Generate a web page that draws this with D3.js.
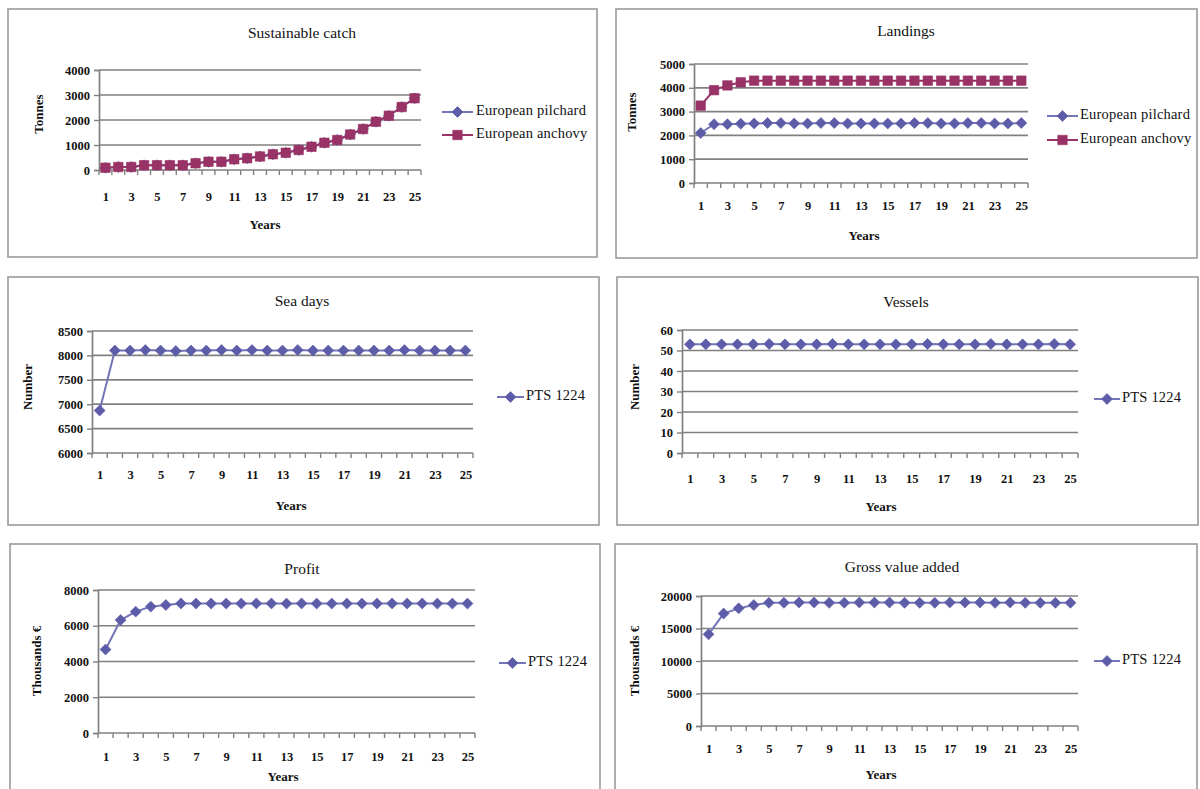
<!DOCTYPE html>
<html><head><meta charset="utf-8">
<script src="https://cdn.jsdelivr.net/npm/d3@7"></script>
<style>
html,body{margin:0;padding:0;background:#fff;}
svg{display:block;}
text{font-family:"Liberation Serif","Times New Roman",serif;fill:#111;}
</style></head>
<body>
<svg id="c" width="1200" height="789"></svg>
<script>
// ---- data ----
const years = [1,2,3,4,5,6,7,8,9,10,11,12,13,14,15,16,17,18,19,20,21,22,23,24,25];
const yearLabels = [1,3,5,7,9,11,13,15,17,19,21,23,25];

const catchPilchard = [90,120,120,190,190,190,190,270,330,330,430,470,540,630,690,800,930,1090,1200,1420,1640,1930,2170,2520,2870];
const catchAnchovy  = [90,120,120,190,190,190,190,270,330,330,430,470,540,630,690,800,930,1090,1200,1420,1640,1930,2170,2520,2870];

const landPilchard = [2100,2470,2470,2490,2500,2520,2520,2500,2500,2520,2520,2500,2500,2500,2500,2500,2520,2520,2500,2500,2520,2520,2500,2500,2520];
const landAnchovy  = [3250,3900,4100,4230,4300,4300,4300,4300,4300,4300,4300,4300,4300,4300,4300,4300,4300,4300,4300,4300,4300,4300,4300,4300,4300];

const seaDays = [6870,8100,8100,8110,8100,8090,8100,8100,8110,8100,8110,8100,8100,8110,8100,8100,8100,8100,8100,8100,8110,8100,8100,8100,8100];
const vessels = [53,53,53,53,53,53.2,53,53,53,53.2,53,53,53,53,53,53.2,53,53,53,53.2,53,53,53,53.2,53];
const profit  = [4670,6320,6790,7070,7160,7250,7240,7240,7240,7240,7250,7250,7240,7250,7240,7240,7240,7240,7240,7250,7240,7250,7240,7240,7240];
const gva     = [14100,17300,18100,18600,18950,18950,19000,19000,18950,18950,19000,19000,19000,18950,18950,18950,19000,19000,19000,18950,19000,18950,18950,18950,18950];

const yTicksCatch = [0,1000,2000,3000,4000];
const yTicksLand  = [0,1000,2000,3000,4000,5000];
const yTicksSea   = [6000,6500,7000,7500,8000,8500];
const yTicksVes   = [0,10,20,30,40,50,60];
const yTicksProf  = [0,2000,4000,6000,8000];
const yTicksGva   = [0,5000,10000,15000,20000];

const seriesNames = ["European pilchard","European anchovy","PTS 1224"];
const titles = ["Sustainable catch","Landings","Sea days","Vessels","Profit","Gross value added"];
const yTitles = ["Tonnes","Tonnes","Number","Number","Thousands €","Thousands €"];

// ---- styles ----
const BLUE = "#5c5ca8", BLUE_LINE = "#7474b8", RED = "#993366";

const panels = [
 {frame:[8,9,597,257], plot:{L:99,R:421,T:70,B:170}, ticks:yTicksCatch, title:titles[0], tpos:[302,34], ytitle:yTitles[0], ytpos:[40,114], xlabY:200, yearsPos:[265,226],
  series:[{name:seriesNames[0],vals:catchPilchard,col:BLUE,lcol:BLUE_LINE,shape:"diamond"},{name:seriesNames[1],vals:catchAnchovy,col:RED,lcol:RED,shape:"square"}],
  legend:{x1:442,x2:473,tx:476,ys:[112,135]}},
 {frame:[616,9,1197,258], plot:{L:694,R:1028,T:64,B:183}, ticks:yTicksLand, title:titles[1], tpos:[906,32], ytitle:yTitles[1], ytpos:[633,112], xlabY:209, yearsPos:[864,237],
  series:[{name:seriesNames[0],vals:landPilchard,col:BLUE,lcol:BLUE_LINE,shape:"diamond"},{name:seriesNames[1],vals:landAnchovy,col:RED,lcol:RED,shape:"square"}],
  legend:{x1:1047,x2:1078,tx:1080,ys:[116,140]}},
 {frame:[8,277,599,525], plot:{L:92,R:473,T:331,B:453}, ticks:yTicksSea, title:titles[2], tpos:[302,302], ytitle:yTitles[2], ytpos:[29,387], xlabY:478, yearsPos:[291,507],
  series:[{name:seriesNames[2],vals:seaDays,col:BLUE,lcol:BLUE_LINE,shape:"diamond"}],
  legend:{x1:497,x2:524,tx:526,ys:[397]}},
 {frame:[617,277,1198,525], plot:{L:682,R:1078,T:330,B:453}, ticks:yTicksVes, title:titles[3], tpos:[906,303], ytitle:yTitles[3], ytpos:[636,387], xlabY:482, yearsPos:[881,508],
  series:[{name:seriesNames[2],vals:vessels,col:BLUE,lcol:BLUE_LINE,shape:"diamond"}],
  legend:{x1:1094,x2:1120,tx:1122,ys:[399]}},
 {frame:[10,544,600,800], plot:{L:98,R:475,T:590,B:733}, ticks:yTicksProf, title:titles[4], tpos:[302,570], ytitle:yTitles[4], ytpos:[38,661], xlabY:760, yearsPos:[283,778],
  series:[{name:seriesNames[2],vals:profit,col:BLUE,lcol:BLUE_LINE,shape:"diamond"}],
  legend:{x1:499,x2:526,tx:528,ys:[663]}},
 {frame:[615,544,1197,800], plot:{L:701,R:1078,T:596,B:726}, ticks:yTicksGva, title:titles[5], tpos:[902,568], ytitle:yTitles[5], ytpos:[636,661], xlabY:752, yearsPos:[881,776],
  series:[{name:seriesNames[2],vals:gva,col:BLUE,lcol:BLUE_LINE,shape:"diamond"}],
  legend:{x1:1094,x2:1120,tx:1122,ys:[661]}}
];

const svg = d3.select("#c");

function marker(g, shape, col, x, y){
  if (shape === "diamond") {
    g.append("path").attr("d", d3.symbol().type(d3.symbolSquare).size(60)())
      .attr("transform", `translate(${x},${y}) rotate(45)`).attr("fill", col).attr("stroke", col).attr("stroke-width", 0.6);
  } else {
    g.append("path").attr("d", d3.symbol().type(d3.symbolSquare).size(90)())
      .attr("transform", `translate(${x},${y})`).attr("fill", col).attr("stroke", col).attr("stroke-width", 0.6);
  }
}

panels.forEach(p => {
  const g = svg.append("g");
  const [fx0, fy0, fx1, fy1] = p.frame;
  g.append("rect").attr("x", fx0).attr("y", fy0).attr("width", fx1 - fx0).attr("height", fy1 - fy0)
    .attr("fill", "#fff").attr("stroke", "#9a9a9a").attr("stroke-width", 1.6);

  const {L, R, T, B} = p.plot;
  const xb = d3.scaleBand().domain(years).range([L, R]);
  const xp = d3.scalePoint().domain(years).range([L, R]).padding(0.5);
  const y = d3.scaleLinear().domain([p.ticks[0], p.ticks[p.ticks.length - 1]]).range([B, T]);

  // gridlines
  g.selectAll(".grid").data(p.ticks.slice(1)).join("line")
    .attr("x1", L).attr("x2", R).attr("y1", d => y(d)).attr("y2", d => y(d))
    .attr("stroke", "#808080").attr("stroke-width", 1.7);

  // y axis
  const ya = g.append("g").attr("transform", `translate(${L},0)`)
    .call(d3.axisLeft(y).tickValues(p.ticks).tickSize(5).tickPadding(4).tickFormat(d3.format("d")));
  ya.select(".domain").attr("stroke", "#808080").attr("stroke-width", 1.7);
  ya.selectAll(".tick line").attr("stroke", "#808080").attr("stroke-width", 1.4);
  ya.selectAll(".tick text").attr("font-family", "Liberation Serif").attr("font-size", 12.5).attr("font-weight", "bold").attr("fill", "#111");

  // x axis line
  g.append("line").attr("x1", L).attr("x2", R).attr("y1", B).attr("y2", B).attr("stroke", "#808080").attr("stroke-width", 1.7);
  const bounds = years.map(d => xb(d)).concat([R]);
  g.selectAll(".xt").data(bounds).join("line")
    .attr("x1", d => d).attr("x2", d => d).attr("y1", B).attr("y2", B + 5)
    .attr("stroke", "#808080").attr("stroke-width", 1.4);
  const xa = g.append("g").attr("transform", `translate(0,${p.xlabY - 8})`)
    .call(d3.axisBottom(xp).tickValues(yearLabels).tickSize(0).tickPadding(0));
  xa.select(".domain").remove();
  xa.selectAll(".tick text").attr("font-family", "Liberation Serif").attr("font-size", 12.5).attr("font-weight", "bold").attr("fill", "#111");

  // series
  p.series.forEach(s => {
    const line = d3.line().x((d, i) => xp(years[i])).y(d => y(d));
    g.append("path").datum(s.vals).attr("d", line).attr("fill", "none").attr("stroke", s.lcol).attr("stroke-width", 2);
    s.vals.forEach((v, i) => marker(g, s.shape, s.col, xp(years[i]), y(v)));
  });

  // titles
  g.append("text").attr("x", p.tpos[0]).attr("y", p.tpos[1]).attr("text-anchor", "middle").attr("dominant-baseline", "middle")
    .attr("font-size", 15.5).text(p.title);
  g.append("text").attr("transform", `translate(${p.ytpos[0]},${p.ytpos[1]}) rotate(-90)`).attr("text-anchor", "middle")
    .attr("dominant-baseline", "middle").attr("font-size", 13).attr("font-weight", "bold").text(p.ytitle);
  g.append("text").attr("x", p.yearsPos[0]).attr("y", p.yearsPos[1]).attr("text-anchor", "middle").attr("dominant-baseline", "middle")
    .attr("font-size", 13).attr("font-weight", "bold").text("Years");

  // legend
  p.series.forEach((s, i) => {
    const ly = p.legend.ys[i];
    g.append("line").attr("x1", p.legend.x1).attr("x2", p.legend.x2).attr("y1", ly).attr("y2", ly).attr("stroke", s.lcol).attr("stroke-width", 2);
    marker(g, s.shape, s.col, (p.legend.x1 + p.legend.x2) / 2, ly);
    g.append("text").attr("x", p.legend.tx).attr("y", ly).attr("dominant-baseline", "middle")
      .attr("font-size", 14.5).attr("letter-spacing", 0.2).text(s.name);
  });
});
</script>
</body></html>
